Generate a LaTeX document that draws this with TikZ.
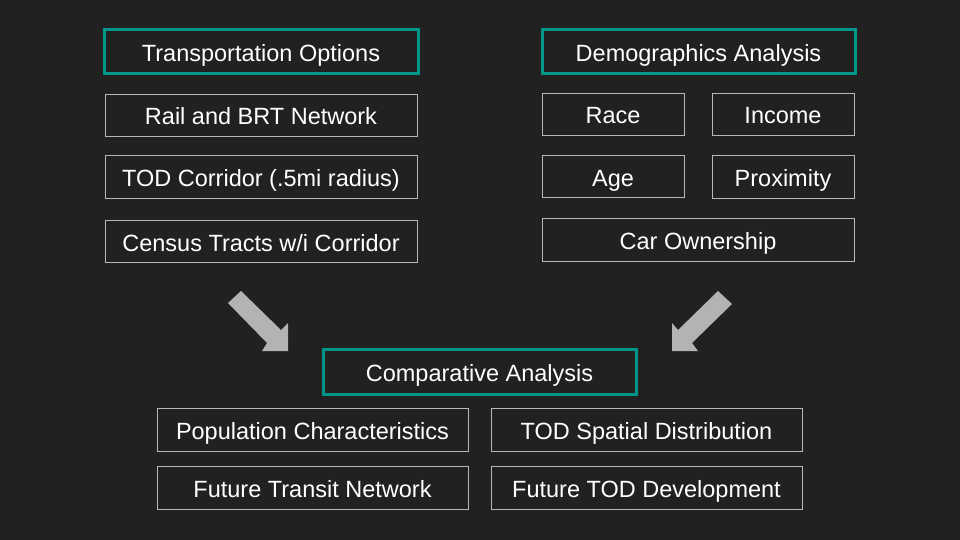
\documentclass[tikz,border=0pt]{standalone}
\usepackage{fontspec}
\setmainfont{Liberation Sans}
\definecolor{bgdark}{HTML}{212121}
\definecolor{tealframe}{HTML}{00968A}
\definecolor{greyframe}{HTML}{B7B7B7}
\definecolor{arrowgrey}{HTML}{B3B3B3}
\begin{document}
\begin{tikzpicture}[x=1pt,y=-1pt,
  box/.style={draw=greyframe,line width=0.9pt,text=white,inner sep=0pt,
    text height=20pt,text depth=0pt,
    font=\fontsize{23.5}{26}\selectfont},
  headbox/.style={box,draw=tealframe,line width=3pt},
  blockarrow/.style={fill=arrowgrey,draw=none}]
\useasboundingbox[fill=bgdark] (0,0) rectangle (960,540);
% left column: transportation
\node[headbox,minimum width=314,minimum height=44] (trans) at (261,52) {Transportation Options};
\node[box,minimum width=312,minimum height=42] (rail) at (261,115) {Rail and BRT Network};
\node[box,minimum width=312,minimum height=43] (tod) at (261,176.5) {TOD Corridor (.5mi radius)};
\node[box,minimum width=312,minimum height=42] (census) at (261,241) {Census Tracts w/i Corridor};
% right column: demographics
\node[headbox,minimum width=313,minimum height=44] (demo) at (698.5,52) {Demographics Analysis};
\node[box,minimum width=142,minimum height=42] (race) at (613,114) {Race};
\node[box,minimum width=142,minimum height=42] (income) at (783,114) {Income};
\node[box,minimum width=142,minimum height=42] (age) at (613,176) {Age};
\node[box,minimum width=142,minimum height=43] (prox) at (783,176.5) {Proximity};
\node[box,minimum width=312,minimum height=43] (car) at (698,239.5) {Car Ownership};
% bottom: comparison
\node[headbox,minimum width=313,minimum height=45] (comp) at (479.5,371.5) {Comparative Analysis};
\node[box,minimum width=311,minimum height=43] (pop) at (312.5,429.5) {Population Characteristics};
\node[box,minimum width=311,minimum height=43] (spatial) at (646.5,429.5) {TOD Spatial Distribution};
\node[box,minimum width=311,minimum height=43] (transit) at (312.5,487.5) {Future Transit Network};
\node[box,minimum width=311,minimum height=43] (devel) at (646.5,487.5) {Future TOD Development};
% block arrows into the comparison
\fill[blockarrow] (228,303) -- (241,291) -- (281,330) -- (288,323) -- (288,351)
  -- (262,351) -- (267,343) -- cycle;
\fill[blockarrow] (732,304) -- (718,291) -- (678,330) -- (672,323) -- (672,351)
  -- (698,351) -- (692,343) -- cycle;
\end{tikzpicture}
\end{document}
